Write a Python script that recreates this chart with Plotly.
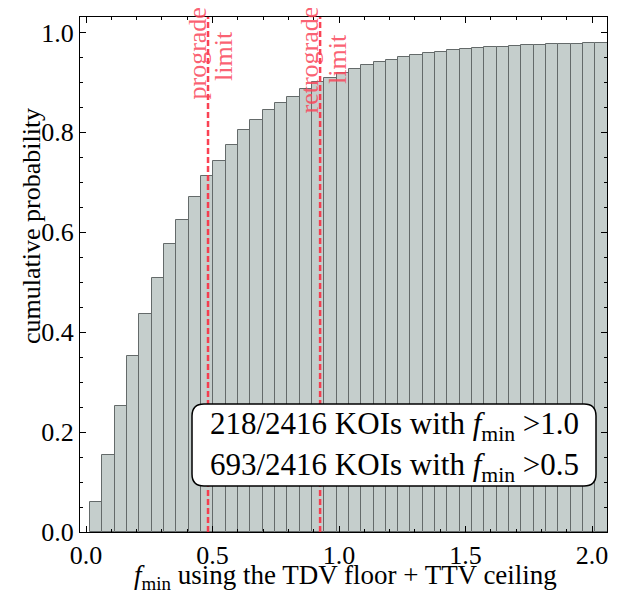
import plotly.graph_objects as go

# ---- data ----
bin_start = 0.016
bin_width = 0.0487
cum_prob = [0.061, 0.155, 0.253, 0.353, 0.436, 0.509, 0.577, 0.625, 0.670, 0.713,
            0.743, 0.775, 0.805, 0.824, 0.844, 0.859, 0.871, 0.886, 0.900, 0.909,
            0.918, 0.927, 0.935, 0.940, 0.945, 0.950, 0.955, 0.959, 0.960, 0.964,
            0.967, 0.969, 0.971, 0.971, 0.973, 0.974, 0.975, 0.977, 0.977, 0.977,
            0.979, 0.979]
prograde_limit = 0.482
retrograde_limit = 0.925
x_ticks = [0.0, 0.5, 1.0, 1.5, 2.0]
y_ticks = [0.0, 0.2, 0.4, 0.6, 0.8, 1.0]
box_lines = ["218/2416 KOIs with <i>f</i><sub>min</sub> >1.0",
             "693/2416 KOIs with <i>f</i><sub>min</sub> >0.5"]
x_label = "<i>f</i><sub>min</sub> using the TDV floor + TTV ceiling"
y_label = "cumulative probability"

centers = [bin_start + bin_width * (i + 0.5) for i in range(len(cum_prob))]

FONT = "Liberation Serif"
RED_LINE = "rgba(250,45,65,0.9)"
RED_TEXT = "rgba(250,70,90,0.85)"

# page body has an 8px margin; figure is sized so it ends at the window edge
OFF = 8
WIN_W, WIN_H = 624, 590
W, H = WIN_W - OFF, WIN_H - OFF
# plot area in window pixels
L, R, T, B = 80, 607, 17, 532
def px(xp):  # window pixel x -> paper
    return (xp - L) / (R - L)
def py(yp):  # window pixel y -> paper
    return (B - yp) / (B - T)

fig = go.Figure()
fig.add_trace(go.Bar(
    x=centers, y=cum_prob, width=bin_width,
    marker=dict(color="rgb(197,206,204)", line=dict(color="rgb(100,106,106)", width=1)),
    showlegend=False, hoverinfo="skip"))

for xv in (prograde_limit, retrograde_limit):
    fig.add_shape(type="line", xref="x", yref="paper", x0=xv, x1=xv, y0=0, y1=1,
                  line=dict(color=RED_LINE, width=2.5, dash="6px,3px"), layer="above")

limit_texts = [("prograde", 196.5, 54), ("limit", 224, 56),
               ("retrograde", 308.5, 60), ("limit", 337, 59)]
for txt, cx, cy in limit_texts:
    fig.add_annotation(x=px(cx), y=py(cy), xref="paper", yref="paper", text=txt,
                       textangle=-90, showarrow=False, xanchor="center", yanchor="middle",
                       font=dict(family=FONT, size=26, color=RED_TEXT))

# rounded box (paper coords)
x0, x1, y0, y1 = px(192), px(596), py(486), py(404)
rx, ry = 12 / (R - L), 12 / (B - T)
path = (f"M {x0+rx},{y0} L {x1-rx},{y0} Q {x1},{y0} {x1},{y0+ry} "
        f"L {x1},{y1-ry} Q {x1},{y1} {x1-rx},{y1} L {x0+rx},{y1} "
        f"Q {x0},{y1} {x0},{y1-ry} L {x0},{y0+ry} Q {x0},{y0} {x0+rx},{y0} Z")
fig.add_shape(type="path", xref="paper", yref="paper", path=path,
              fillcolor="white", line=dict(color="black", width=1.5), layer="above")
for line, cy in zip(box_lines, (426, 467)):
    fig.add_annotation(x=px(394), y=py(cy), xref="paper", yref="paper", text=line,
                       showarrow=False, xanchor="center", yanchor="middle",
                       font=dict(family=FONT, size=31, color="black"))

# axis labels
fig.add_annotation(x=px(345), y=py(577), xref="paper", yref="paper", text=x_label,
                   showarrow=False, xanchor="center", yanchor="middle",
                   font=dict(family=FONT, size=27, color="black"))
fig.add_annotation(x=px(32), y=py(226), xref="paper", yref="paper", text=y_label,
                   textangle=-90, showarrow=False, xanchor="center", yanchor="middle",
                   font=dict(family=FONT, size=26, color="black"))

axis_common = dict(showline=True, linecolor="black", linewidth=1, mirror="allticks",
                   ticks="inside", ticklen=6, tickcolor="black", showgrid=False,
                   zeroline=False, automargin=False,
                   tickfont=dict(family=FONT, size=26, color="black"))

fig.update_xaxes(range=[-0.024, 2.059], tickvals=x_ticks,
                 ticktext=[f"{v:.1f}" for v in x_ticks],
                 minor=dict(dtick=0.1, ticks="inside", ticklen=3, tickcolor="black"),
                 **axis_common)
fig.update_yaxes(range=[0, 1.031], tickvals=y_ticks,
                 ticktext=[f"{v:.1f}" for v in y_ticks],
                 minor=dict(dtick=0.05, ticks="inside", ticklen=3, tickcolor="black"),
                 **axis_common)

fig.update_layout(width=W, height=H,
                  margin=dict(l=L - OFF, r=WIN_W - R, t=T - OFF, b=WIN_H - B),
                  plot_bgcolor="white", paper_bgcolor="white", bargap=0)
fig.write_html("out.html")
